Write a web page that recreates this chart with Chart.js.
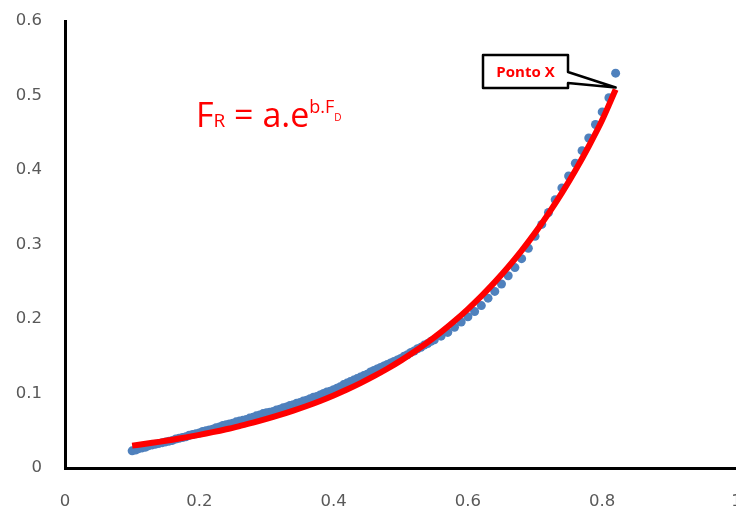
<!DOCTYPE html>
<html>
<head>
<meta charset="utf-8">
<script src="https://cdn.jsdelivr.net/npm/chart.js@4.4.1/dist/chart.umd.min.js"></script>
<style>
  html, body { margin: 0; padding: 0; background: #fff; overflow: hidden; }
  #wrap { width: 741px; height: 508px; }
  #chart { width: 741px; height: 508px; }
</style>
</head>
<body>
<div id="wrap"><canvas id="chart" width="741" height="508"></canvas></div>
<script>
// measured points (blue)
var xBlue = [0.100, 0.105, 0.110, 0.115, 0.120, 0.125, 0.130, 0.135, 0.140, 0.145,
             0.150, 0.155, 0.160, 0.165, 0.170, 0.175, 0.180, 0.185, 0.190, 0.195,
             0.200, 0.205, 0.210, 0.215, 0.220, 0.225, 0.230, 0.235, 0.240, 0.245,
             0.250, 0.255, 0.260, 0.265, 0.270, 0.275, 0.280, 0.285, 0.290, 0.295,
             0.300, 0.305, 0.310, 0.315, 0.320, 0.325, 0.330, 0.335, 0.340, 0.345,
             0.350, 0.355, 0.360, 0.365, 0.370, 0.375, 0.380, 0.385, 0.390, 0.395,
             0.400, 0.405, 0.410, 0.415, 0.420, 0.425, 0.430, 0.435, 0.440, 0.445,
             0.450, 0.455, 0.460, 0.465, 0.470, 0.475, 0.480, 0.485, 0.490, 0.495,
             0.500, 0.505, 0.510, 0.515, 0.520, 0.525, 0.530, 0.535, 0.540, 0.545,
             0.55, 0.56, 0.57, 0.58, 0.59,
             0.60, 0.61, 0.62, 0.63, 0.64, 0.65, 0.66, 0.67, 0.68, 0.69,
             0.70, 0.71, 0.72, 0.73, 0.74, 0.75, 0.76, 0.77, 0.78, 0.79,
             0.80, 0.81, 0.82];
var yBlue = [0.023, 0.024, 0.026, 0.027, 0.028, 0.030, 0.031, 0.032, 0.033, 0.034,
             0.035, 0.036, 0.037, 0.039, 0.040, 0.041, 0.042, 0.044, 0.045, 0.046,
             0.047, 0.049, 0.050, 0.051, 0.052, 0.054, 0.055, 0.057, 0.058, 0.059,
             0.060, 0.062, 0.063, 0.064, 0.065, 0.067, 0.068, 0.070, 0.071, 0.073,
             0.074, 0.075, 0.076, 0.078, 0.079, 0.081, 0.082, 0.084, 0.085, 0.087,
             0.088, 0.090, 0.091, 0.093, 0.095, 0.096, 0.098, 0.100, 0.102, 0.103,
             0.105, 0.107, 0.109, 0.112, 0.114, 0.116, 0.118, 0.120, 0.122, 0.124,
             0.126, 0.129, 0.131, 0.133, 0.135, 0.137, 0.139, 0.141, 0.143, 0.145,
             0.147, 0.150, 0.152, 0.155, 0.157, 0.160, 0.162, 0.165, 0.167, 0.170,
             0.172, 0.177, 0.182, 0.189, 0.196,
             0.203, 0.210, 0.218, 0.228, 0.237, 0.247, 0.258, 0.269, 0.281, 0.295,
             0.311, 0.327, 0.343, 0.360, 0.376, 0.392, 0.409, 0.426, 0.443, 0.461,
             0.478, 0.497, 0.530];

// fitted curve (red)
var xFit = [0.10, 0.12, 0.14, 0.16, 0.18, 0.20, 0.22, 0.24, 0.26, 0.28,
            0.30, 0.32, 0.34, 0.36, 0.38, 0.40, 0.42, 0.44, 0.46, 0.48,
            0.50, 0.52, 0.54, 0.56, 0.58, 0.60, 0.62, 0.64, 0.66, 0.68,
            0.70, 0.72, 0.74, 0.76, 0.78, 0.80, 0.82];
var yFit = [0.0300, 0.0325, 0.0351, 0.0380, 0.0411, 0.0445, 0.0481, 0.0520, 0.0563, 0.0608,
            0.0658, 0.0712, 0.0770, 0.0832, 0.0900, 0.0974, 0.1053, 0.1139, 0.1232, 0.1332,
            0.1441, 0.1559, 0.1686, 0.1823, 0.1972, 0.2133, 0.2307, 0.2495, 0.2698, 0.2918,
            0.3156, 0.3414, 0.3692, 0.3993, 0.4319, 0.4671, 0.5080];

var xTicks = [0, 0.2, 0.4, 0.6, 0.8, 1];
var xTickLabels = ['0', '0.2', '0.4', '0.6', '0.8', '1'];
var yTicks = [0, 0.1, 0.2, 0.3, 0.4, 0.5, 0.6];
var yTickLabels = ['0', '0.1', '0.2', '0.3', '0.4', '0.5', '0.6'];
var calloutText = 'Ponto X';

function pts(xs, ys) {
    return xs.map(function (x, i) { return { x: x, y: ys[i] }; });
}

var labelFont = { family: 'DejaVu Sans', size: 16.5 };

// formula + "Ponto X" callout
var extras = {
    id: 'extras',
    afterDraw: function (chart) {
        var ctx = chart.ctx;
        ctx.save();
        ctx.fillStyle = '#ff0000';
        ctx.textBaseline = 'alphabetic';
        ctx.textAlign = 'left';
        var x = 196;
        var parts = [
            ['F', 34, 127],
            ['R', 19, 127],
            [' = a.e', 34, 127],
            ['b.F', 18, 113],
            ['D', 10, 121]
        ];
        parts.forEach(function (p) {
            ctx.font = p[1] + 'px "Open Sans"';
            ctx.fillText(p[0], x, p[2]);
            x += ctx.measureText(p[0]).width;
        });

        // callout anchored on the last fit point
        var xs = chart.scales.x, ys = chart.scales.y;
        var tx = xs.getPixelForValue(xFit[xFit.length - 1]);
        var ty = ys.getPixelForValue(yFit[yFit.length - 1]) - 2;
        var bx = 483, by = 55, bw = 85, bh = 33;
        ctx.fillStyle = '#fff';
        ctx.strokeStyle = '#000';
        ctx.lineWidth = 2.5;
        ctx.lineJoin = 'round';
        ctx.beginPath();
        ctx.moveTo(bx, by);
        ctx.lineTo(bx + bw, by);
        ctx.lineTo(bx + bw, by + 17);
        ctx.lineTo(tx, ty);
        ctx.lineTo(bx + bw, by + 28);
        ctx.lineTo(bx + bw, by + bh);
        ctx.lineTo(bx, by + bh);
        ctx.closePath();
        ctx.fill();
        ctx.stroke();
        ctx.fillStyle = '#ff0000';
        ctx.font = 'bold 15px "Open Sans"';
        ctx.textAlign = 'center';
        ctx.textBaseline = 'middle';
        ctx.fillText(calloutText, bx + bw / 2, by + bh / 2 + 1);
        ctx.restore();
    }
};

var ctx = document.getElementById('chart').getContext('2d');
var chart = new Chart(ctx, {
    type: 'scatter',
    data: {
        datasets: [{
            label: 'Ajuste',
            data: pts(xFit, yFit),
            showLine: true,
            borderColor: '#ff0000',
            borderWidth: 6,
            pointRadius: 0,
            tension: 0.3,
            order: 0
        }, {
            label: 'Dados',
            data: pts(xBlue, yBlue),
            backgroundColor: '#4f81bd',
            borderColor: '#4f81bd',
            borderWidth: 0,
            pointRadius: 4.5,
            order: 1
        }]
    },
    options: {
        responsive: false,
        animation: false,
        layout: { padding: { top: 21, left: 0, right: 0, bottom: 0 } },
        plugins: {
            legend: { display: false },
            tooltip: { enabled: false }
        },
        scales: {
            x: {
                type: 'linear',
                min: 0,
                max: 1,
                afterBuildTicks: function (s) { s.ticks = xTicks.map(function (v) { return { value: v }; }); },
                afterFit: function (s) { s.height = 40; s.paddingLeft = 0; s.paddingRight = 0; },
                grid: { display: false },
                border: { display: true, color: '#000', width: 3 },
                ticks: {
                    color: '#595959', font: labelFont, padding: 16, maxRotation: 0,
                    callback: function (v, i) { return xTickLabels[i]; }
                }
            },
            y: {
                type: 'linear',
                min: 0,
                max: 0.6,
                afterBuildTicks: function (s) { s.ticks = yTicks.map(function (v) { return { value: v }; }); },
                afterFit: function (s) { s.width = 65; s.paddingTop = 0; s.paddingBottom = 0; },
                grid: { display: false },
                border: { display: true, color: '#000', width: 3 },
                ticks: {
                    color: '#595959', font: labelFont, padding: 15,
                    callback: function (v, i) { return yTickLabels[i]; }
                }
            }
        }
    },
    plugins: [extras]
});
</script>
</body>
</html>
